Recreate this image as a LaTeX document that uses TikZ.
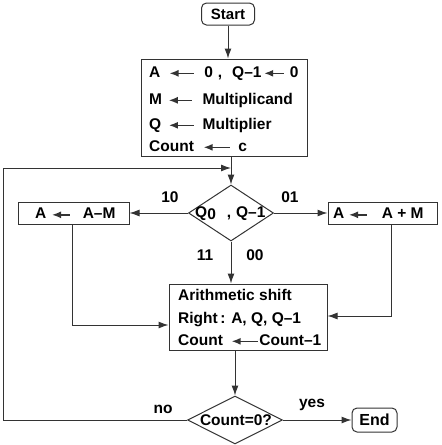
\documentclass[tikz,border=0pt]{standalone}
\usepackage{fontspec}
\setmainfont{Liberation Sans}
\usetikzlibrary{shapes.geometric,arrows.meta}
\definecolor{ln}{HTML}{333333}
\newcommand{\la}[1]{\tikz[baseline=-0.45ex]\draw[ln,line width=1.4pt,{Latex[length=9pt,width=7pt]}-] (0pt,0pt) -- (#1pt,0pt);}
\begin{document}
\begin{tikzpicture}[x=1pt,y=-1pt,
  font=\fontsize{15.5}{18}\selectfont\bfseries,
  line/.style={ln,line width=1pt},
  arr/.style={line,-{Latex[length=10pt,width=7pt]}},
  box/.style={draw=ln,line width=1pt,rectangle,inner sep=0pt,fill=white},
  term/.style={box,rounded corners=5pt},
  dia/.style={draw=ln,line width=1pt,diamond,inner sep=0pt,fill=white},
  lbl/.style={inner sep=0pt},
  row/.style={inner sep=0pt,anchor=base west}]
\useasboundingbox (0,0) rectangle (442,445);
\node[term,minimum width=53pt,minimum height=22pt,font=\fontsize{15}{18}\selectfont\bfseries] (start) at (228,14) {Start};
\node[box,minimum width=166pt,minimum height=97pt] (init) at (224,107.5) {};
\node[row] (i1) at (149,77) {A\hspace{8.5pt}\la{24}\hspace{10pt}0\hspace{5pt},\hspace{10pt}Q--1\hspace{2pt}\la{20}\hspace{5pt}0};
\node[row] (i2) at (149,104) {M\hspace{6pt}\la{23}\hspace{10pt}Multiplicand};
\node[row] (i3) at (149,129) {Q\hspace{7pt}\la{25}\hspace{8pt}Multiplier};
\node[row] (i4) at (149,151) {Count\hspace{9pt}\la{26}\hspace{8pt}c};
\node[dia,minimum width=85pt,minimum height=56pt] (d1) at (231,213) {};
\node[row] (d1txt) at (195,217) {Q\raisebox{-0.35ex}{0}\hspace{11pt},\hspace{5pt}Q--1};
\node[box,minimum width=111pt,minimum height=22pt] (m) at (73.5,213) {};
\node[row] (mtxt) at (35,218.5) {A\hspace{5pt}\la{18}\hspace{12pt}A--M};
\node[box,minimum width=109pt,minimum height=22pt] (p) at (382.5,213) {};
\node[row] (ptxt) at (333,218.5) {A\hspace{4pt}\la{18}\hspace{14pt}A + M};
\node[box,minimum width=158pt,minimum height=66pt] (ar) at (248,317) {};
\node[row] (a1) at (178,300) {Arithmetic shift};
\node[row] (a2) at (178,323) {Right\,: A, Q, Q--1};
\node[row] (a3) at (178,345) {Count\hspace{8pt}\la{26}\hspace{1pt}Count--1};
\node[dia,minimum width=95pt,minimum height=48pt] (d2) at (235,420) {};
\node[lbl] (d2txt) at (236,420) {Count=0?};
\node[term,minimum width=45pt,minimum height=24pt,font=\fontsize{16}{18}\selectfont\bfseries] (end) at (374.5,420) {End};
\node[lbl] (l10) at (170,197) {10};
\node[lbl] (l01) at (290,197) {01};
\node[lbl] (l11) at (205,255) {11};
\node[lbl] (l00) at (255,255) {00};
\node[lbl] (lno) at (163,409) {no};
\node[lbl] (lyes) at (312,405) {yes};
\coordinate (j) at (231,168);
\coordinate (c1) at (3,420);
\coordinate (c2) at (3,168);
\coordinate (mc) at (72,325);
\coordinate (pc) at (391,316);
\draw[arr] (start.south) -- (start.south |- init.north);
\draw[arr] (init.south -| d1.north) -- (d1.north);
\draw[arr] (d2.west) -- (c1) -- (c2) -- (j);
\draw[arr] (d1.west) -- (m.east);
\draw[arr] (d1.east) -- (p.west);
\draw[arr] (d1.south) -- (d1.south |- ar.north);
\draw[arr] (m.south -| mc) -- (mc) -- (mc -| ar.west);
\draw[arr] (p.south -| pc) -- (pc) -- (pc -| ar.east);
\draw[arr] (ar.south -| d2.north) -- (d2.north);
\draw[arr] (d2.east) -- (end.west);
\end{tikzpicture}
\end{document}
